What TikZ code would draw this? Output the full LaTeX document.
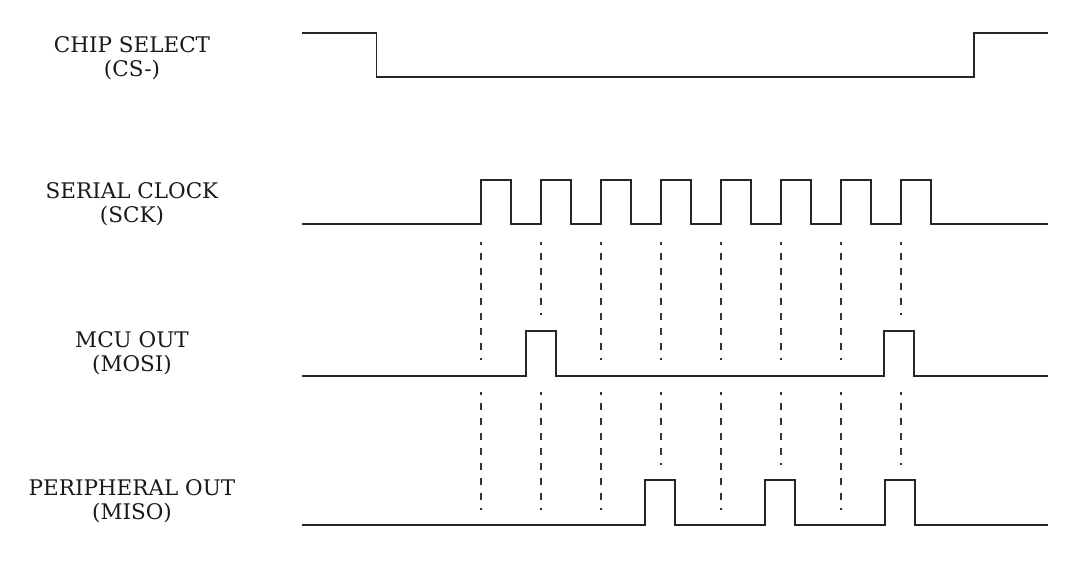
\documentclass[tikz,border=0pt]{standalone}
\usepackage{fontspec}
\setmainfont{DejaVu Serif}
\begin{document}
\begin{tikzpicture}[x=1pt,y=-1pt,
  wave/.style={draw=black!85, line width=1.4pt, line join=miter},
  guide/.style={draw=black!80, line width=1.1pt, dash pattern=on 7pt off 8pt, dash phase=4pt},
  sig/.style={anchor=base, align=center, font=\fontsize{21.5}{24}\selectfont, inner sep=0pt, text=black!90}]
\useasboundingbox (0,0) rectangle (1080,563);
% labels (anchor = baseline of the last line)
\node[sig] (cs)   at (132,76)  {CHIP SELECT\\(CS-)};
\node[sig] (sck)  at (132,222) {SERIAL CLOCK\\(SCK)};
\node[sig] (mosi) at (132,371) {MCU OUT\\(MOSI)};
\node[sig] (miso) at (132,519) {PERIPHERAL OUT\\(MISO)};
% chip select
\draw[wave] (302,33) -- (376.5,33) -- (376.5,77) -- (974,77) -- (974,33) -- (1048,33);
% serial clock
\draw[wave] (302,224)
  \foreach \k in {0,...,7} { -- ({481+60*\k},224) -- ({481+60*\k},180) -- ({511+60*\k},180) -- ({511+60*\k},224) }
  -- (1048,224);
% MOSI
\draw[wave] (302,376) -- (526,376) -- (526,331) -- (556,331) -- (556,376)
  -- (884,376) -- (884,331) -- (914,331) -- (914,376) -- (1048,376);
% MISO
\draw[wave] (302,525) -- (645,525) -- (645,480) -- (675,480) -- (675,525)
  -- (765,525) -- (765,480) -- (795,480) -- (795,525)
  -- (885,525) -- (885,480) -- (915,480) -- (915,525) -- (1048,525);
% guides
\foreach \k in {0,...,7} {
  \pgfmathsetmacro{\gx}{481+60*\k}
  \pgfmathsetmacro{\ea}{(\k==1 || \k==7) ? 315 : 360}
  \pgfmathsetmacro{\eb}{(\k==3 || \k==5 || \k==7) ? 465 : 510}
  \draw[guide] (\gx,242) -- (\gx,\ea);
  \draw[guide] (\gx,392) -- (\gx,\eb);
}
\end{tikzpicture}
\end{document}
